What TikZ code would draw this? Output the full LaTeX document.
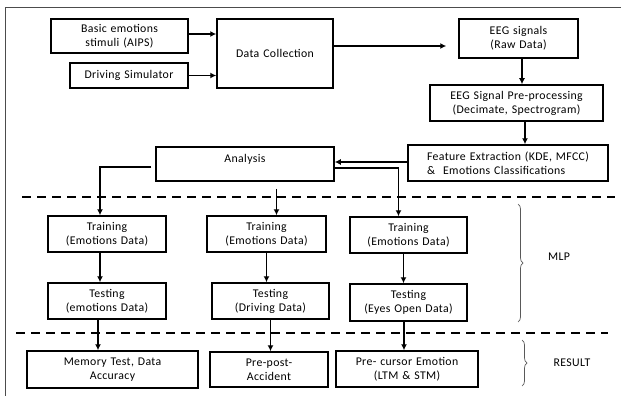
\documentclass[tikz,border=0pt]{standalone}
\usepackage{fontspec}
\setmainfont{Carlito}[LetterSpace=3,WordSpace=1.3]
\usetikzlibrary{arrows.meta,decorations.pathreplacing}

\begin{document}
\begin{tikzpicture}[x=1pt,y=-1pt,
  box/.style={draw, line width=1.5pt, align=center, inner sep=2pt, font=\fontsize{11.8}{14}\selectfont},
  arr/.style={-{Latex[length=6pt,width=6pt]}, line width=1.3pt},
  sep/.style={line width=1.7pt, dash pattern=on 9pt off 6pt}]
\useasboundingbox (0,0) rectangle (621,396);
\draw[gray!60!black, line width=0.8pt] (5,396) -- (5,7) -- (621,7);

% data side
\node[box, minimum width=137pt, minimum height=34pt] (stim) at (119.5,36) {Basic emotions\\stimuli (AIPS)};
\node[box, minimum width=118pt, minimum height=25pt] (drive) at (129,75.5) {Driving Simulator};
\node[box, minimum width=116pt, minimum height=69pt] (collect) at (275,53.5) {Data Collection};
\node[box, minimum width=119pt, minimum height=39pt] (eeg) at (518.5,38.5) {EEG signals\\(Raw Data)};
\node[box, minimum width=173pt, minimum height=36pt] (prep) at (516.5,103) {EEG Signal Pre-processing\\(Decimate, Spectrogram)};
\node[box, minimum width=200pt, minimum height=36pt, align=left] (feat) at (508,163) {Feature Extraction (KDE, MFCC)\\\&\hspace{8pt}Emotions Classifications};
\node[box, minimum width=178pt, minimum height=34pt, inner ysep=4pt, text height=11pt, text depth=15pt] (anal) at (245,164) {Analysis};

% MLP
\node[box, minimum width=118pt, minimum height=36pt] (tr1) at (107,234) {Training\\(Emotions Data)};
\node[box, minimum width=119pt, minimum height=36pt] (tr2) at (266.5,234) {Training\\(Emotions Data)};
\node[box, minimum width=117pt, minimum height=36pt] (tr3) at (408.5,235) {Training\\(Emotions Data)};
\node[box, minimum width=118pt, minimum height=36pt] (te1) at (107,301) {Testing\\(emotions Data)};
\node[box, minimum width=117pt, minimum height=36pt] (te2) at (270.5,301) {Testing\\(Driving Data)};
\node[box, minimum width=117pt, minimum height=37pt] (te3) at (408.5,302.5) {Testing\\(Eyes Open Data)};

% results
\node[box, minimum width=171pt, minimum height=37pt] (res1) at (112.5,369.5) {Memory Test, Data\\Accuracy};
\node[box, minimum width=118pt, minimum height=35pt] (res2) at (269,369.5) {Pre-post-\\Accident};
\node[box, minimum width=142pt, minimum height=36pt] (res3) at (407,369) {Pre- cursor Emotion\\(LTM \& STM)};

\draw[arr] ([yshift=2pt]stim.east) -- ([yshift=2pt]stim.east -| collect.west);
\draw[arr] (drive.east) -- (drive.east -| collect.west);
\draw[arr, shorten >=12pt] ([yshift=7.5pt]collect.east) -- ([yshift=7.5pt]collect.east -| eeg.west);
\draw[arr] ([xshift=3.5pt]eeg.south) -- ([xshift=3.5pt]eeg.south |- prep.north);
\draw[arr] ([xshift=8.5pt]prep.south) -- ([xshift=8.5pt]prep.south |- feat.north);
\draw[arr] ([yshift=1pt]feat.west) -- ([yshift=1pt]feat.west -| anal.east);
\draw[arr] ([xshift=-4pt,yshift=-3pt]anal.west) -| ([xshift=-7pt]tr1.north);
\draw[arr] ([xshift=10pt,yshift=-7pt]anal.south -| tr2.north) -- ([xshift=10pt]tr2.north);
\draw[arr] ([yshift=-4pt]anal.east) -| ([xshift=-10pt]tr3.north);

\draw[arr] ([xshift=-7pt]tr1.south) -- ([xshift=-7pt]te1.north);
\draw[arr] (tr2.south) -- (tr2.south |- te2.north);
\draw[arr] ([xshift=-5pt]tr3.south) -- ([xshift=-5pt]te3.north);
\draw[arr] ([xshift=-9pt]te1.south) -- ([xshift=-9pt]te1.south |- res1.north);
\draw[arr] (te2.south) -- (te2.south |- res2.north);
\draw[arr] ([xshift=-4.5pt]te3.south) -- ([xshift=-4.5pt]te3.south |- res3.north);

% separators
\draw[sep] (22,197) -- (615,197);
\draw[sep] (16,333) -- (608,333);

% braces
\draw[gray!70!black, line width=0.7pt, decorate, decoration={brace, amplitude=5pt}] (518,204) -- (518,322);
\draw[gray!70!black, line width=0.7pt, decorate, decoration={brace, amplitude=5pt}] (522,340) -- (522,386);
\node[font=\fontsize{11.8}{14}\selectfont] (mlp) at (559,257) {MLP};
\node[font=\fontsize{11.8}{14}\selectfont] (result) at (572,363) {RESULT};
\end{tikzpicture}
\end{document}
